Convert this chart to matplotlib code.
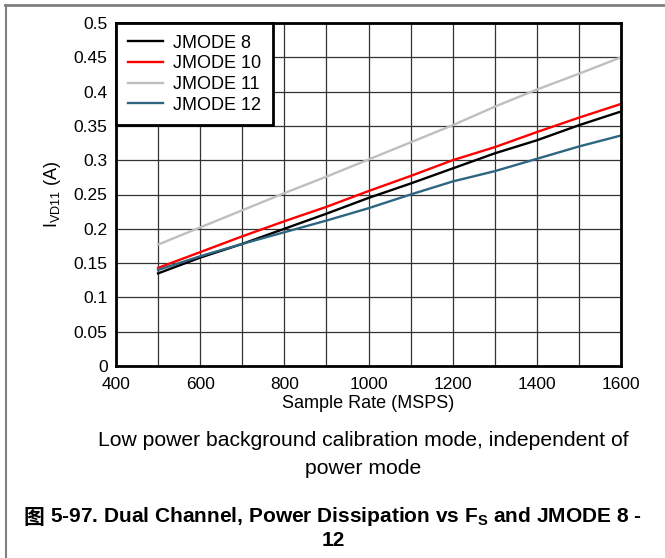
import matplotlib
matplotlib.use("Agg")
import matplotlib.pyplot as plt
from matplotlib.lines import Line2D

plt.rcParams['font.family'] = ['Liberation Sans', 'Noto Sans CJK SC', 'DejaVu Sans']
plt.rcParams['mathtext.default'] = 'regular'

# sample rate (MSPS)
rate = [500, 600, 700, 800, 900, 1000, 1100, 1200, 1300, 1400, 1500, 1600]

# I_VD11 (A) per JMODE
jmode8 = [0.135, 0.158, 0.178, 0.200, 0.222, 0.245, 0.266, 0.288, 0.310, 0.329, 0.351, 0.371]
jmode10 = [0.143, 0.166, 0.189, 0.211, 0.232, 0.255, 0.277, 0.300, 0.319, 0.341, 0.362, 0.382]
jmode11 = [0.177, 0.202, 0.227, 0.252, 0.276, 0.301, 0.326, 0.351, 0.378, 0.403, 0.426, 0.450]
jmode12 = [0.140, 0.160, 0.178, 0.195, 0.212, 0.230, 0.250, 0.269, 0.284, 0.302, 0.320, 0.336]

labels = ["JMODE 8", "JMODE 10", "JMODE 11", "JMODE 12"]
colors = ["#000000", "#ff0000", "#bfbfbf", "#2e6681"]
ytick_labels = ["0", "0.05", "0.1", "0.15", "0.2", "0.25", "0.3", "0.35", "0.4", "0.45", "0.5"]

fig = plt.figure(figsize=(6.65, 5.58), dpi=100)
ax = fig.add_axes([116 / 665, 1 - 366 / 558, 505 / 665, 343 / 558])

for y, lab, c in zip([jmode8, jmode10, jmode11, jmode12], labels, colors):
    ax.plot(rate, y, color=c, lw=1.7, label=lab)

ax.set_xlim(400, 1600)
ax.set_ylim(0, 0.5)
ax.set_xticks(range(400, 1601, 200))
ax.set_xticks(range(400, 1601, 100), minor=True)
ax.set_yticks([i * 0.05 for i in range(11)])
ax.set_yticklabels(ytick_labels)
ax.grid(True, which="both", color="#333333", lw=0.9)
ax.tick_params(which="both", length=0, labelsize=12.5)
ax.tick_params(axis="x", pad=8)
ax.tick_params(axis="y", pad=6)
for s in ax.spines.values():
    s.set_linewidth(2)
    s.set_zorder(5)

ax.set_xlabel("Sample Rate (MSPS)", fontsize=13, labelpad=2)
ax.set_ylabel(r"I$_{VD11}$ (A)", fontsize=13, labelpad=8)

leg = ax.legend(loc="upper left", bbox_to_anchor=(0, 1), fontsize=13, fancybox=False,
                framealpha=1, edgecolor="black", borderaxespad=0, handlelength=1.95,
                labelspacing=0.2, borderpad=0.65, handletextpad=0.55)
leg.get_frame().set_linewidth(2)
leg.set_zorder(6)

# caption
fig.text(363 / 665, 1 - 440 / 558, "Low power background calibration mode, independent of",
         ha="center", va="center", fontsize=15.2)
fig.text(363 / 665, 1 - 469 / 558, "power mode", ha="center", va="center", fontsize=15.2)

# figure title: CJK char drawn on its own (mathtext has no font fallback)
ty = 1 - 517 / 558
t_cjk = fig.text(0, ty, "图 ", ha="left", va="center", fontsize=15, fontweight="bold",
                 family=["Noto Sans CJK SC"])
t_rest = fig.text(0, ty, "5-97. Dual Channel, Power Dissipation vs F$_S$ and JMODE 8 -",
                  ha="left", va="center", fontsize=15, fontweight="bold", family="Liberation Sans")
r = fig.canvas.get_renderer()
w1 = t_cjk.get_window_extent(r).width
w2 = t_rest.get_window_extent(r).width
x0 = 333 - (w1 + w2) / 2
t_cjk.set_x(x0 / 665)
t_rest.set_x((x0 + w1) / 665)
fig.text(333 / 665, 1 - 541 / 558, "12", ha="center", va="center", fontsize=15, fontweight="bold")

# page border lines
fig.add_artist(Line2D([5 / 665, 1], [1 - 5 / 558, 1 - 5 / 558], color="#808080", lw=2))
fig.add_artist(Line2D([6 / 665, 6 / 665], [0, 1 - 5 / 558], color="#808080", lw=1.5))

fig.savefig("out.png", dpi=100)
